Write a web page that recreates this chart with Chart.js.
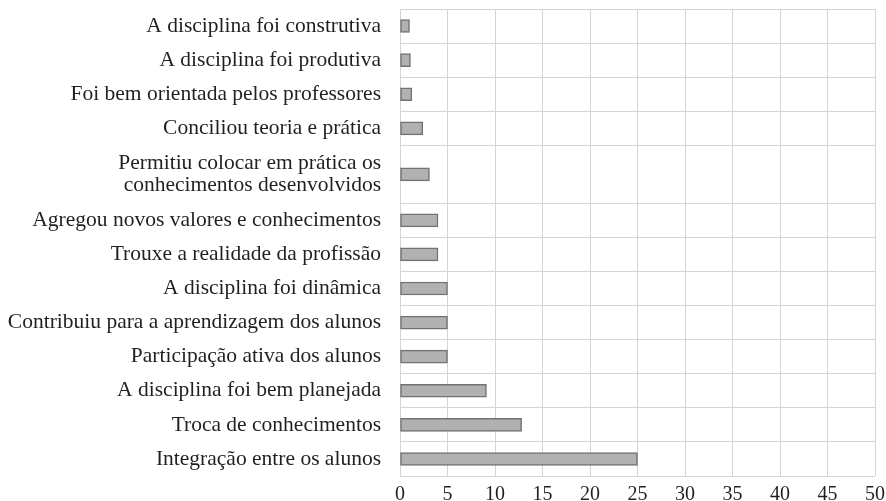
<!DOCTYPE html>
<html>
<head>
<meta charset="utf-8">
<script src="https://cdn.jsdelivr.net/npm/chart.js@4/dist/chart.umd.min.js"></script>
<style>
html,body{margin:0;padding:0;background:#fff;}
#wrap{width:886px;height:501px;}
</style>
</head>
<body>
<div id="wrap"><canvas id="c" width="886" height="501"></canvas></div>
<script>
// Categories, top to bottom
const categories = [
  "A disciplina foi construtiva",
  "A disciplina foi produtiva",
  "Foi bem orientada pelos professores",
  "Conciliou teoria e prática",
  ["Permitiu colocar em prática os", "conhecimentos desenvolvidos"],
  "Agregou novos valores e conhecimentos",
  "Trouxe a realidade da profissão",
  "A disciplina foi dinâmica",
  "Contribuiu para a aprendizagem dos alunos",
  "Participação ativa dos alunos",
  "A disciplina foi bem planejada",
  "Troca de conhecimentos",
  "Integração entre os alunos"
];
const values = [1, 1.1, 1.25, 2.4, 3.1, 4, 4, 5, 5, 5, 9.1, 12.8, 25];
const xTicks = [0, 5, 10, 15, 20, 25, 30, 35, 40, 45, 50];

// Row bands: multi-line labels get a taller band, as in the original
const extraPerLine = 0.7;
const bounds = [0];
const centers = [];
categories.forEach((c, i) => {
  const lines = Array.isArray(c) ? c.length : 1;
  const w = 1 + extraPerLine * (lines - 1);
  centers.push(bounds[i] + w / 2);
  bounds.push(Math.round((bounds[i] + w) * 1000) / 1000);
});
const total = bounds[bounds.length - 1];

const points = values.map((v, i) => ({ x: v, y: centers[i] }));

const FONT = "'Liberation Serif', 'DejaVu Serif', serif";
const TEXT = '#231f20';
const GRID = '#d4d4d4';

new Chart(document.getElementById('c'), {
  type: 'bar',
  data: {
    datasets: [{
      data: points,
      backgroundColor: '#b1b1b1',
      borderColor: '#727272',
      borderWidth: 1.5,
      borderSkipped: false,
      barThickness: 13
    }]
  },
  options: {
    responsive: false,
    animation: false,
    indexAxis: 'y',
    layout: { padding: { top: 9, right: 11, left: 0, bottom: 0 } },
    plugins: { legend: { display: false }, tooltip: { enabled: false } },
    scales: {
      x: {
        type: 'linear',
        min: 0,
        max: 50,
        afterBuildTicks: (s) => { s.ticks = xTicks.map(v => ({ value: v })); },
        afterFit: (s) => { s.height = 25; s.paddingLeft = 0; s.paddingRight = 0; },
        grid: { color: GRID, lineWidth: 1, drawTicks: false, tickLength: 0 },
        border: { display: false },
        ticks: {
          autoSkip: false,
          maxRotation: 0,
          padding: 7,
          color: TEXT,
          font: { family: FONT, size: 20 }
        }
      },
      y: {
        type: 'linear',
        reverse: true,
        min: 0,
        max: total,
        offset: false,
        afterBuildTicks: (s) => {
          const t = [];
          bounds.forEach((b, i) => {
            t.push({ value: b, kind: 'bound' });
            if (i < centers.length) t.push({ value: centers[i], kind: 'center', idx: i });
          });
          s.ticks = t;
        },
        afterFit: (s) => { s.width = 400; s.paddingTop = 0; s.paddingBottom = 0; },
        grid: {
          offset: false,
          drawTicks: false,
          tickLength: 0,
          lineWidth: 1,
          color: (ctx) => (ctx.tick && ctx.tick.kind === 'bound') ? GRID : 'rgba(0,0,0,0)'
        },
        border: { display: false },
        ticks: {
          autoSkip: false,
          padding: 19,
          color: TEXT,
          font: { family: FONT, size: 21.5, lineHeight: 1.03 },
          callback: (value, index, ticks) => {
            const tk = ticks[index];
            return tk.kind === 'center' ? categories[tk.idx] : '';
          }
        }
      }
    }
  }
});
</script>
</body>
</html>
